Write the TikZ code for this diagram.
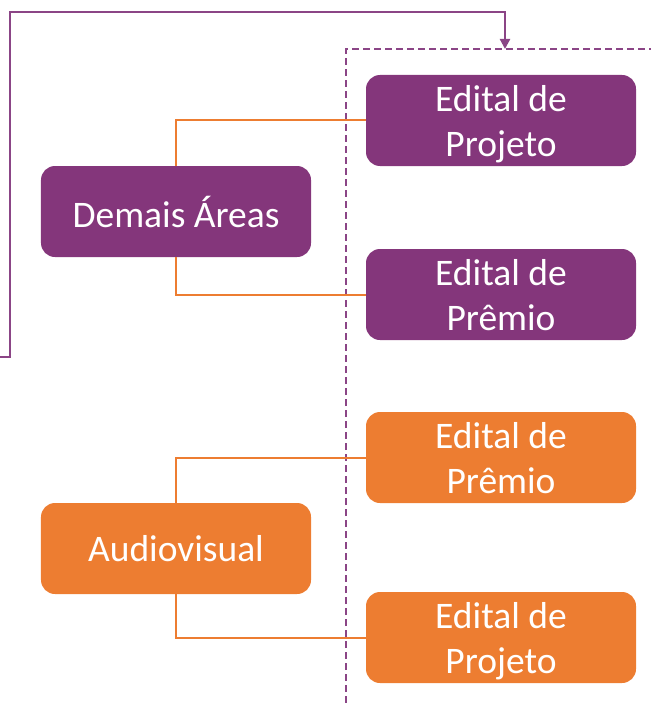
\documentclass[tikz,border=0pt]{standalone}
\usepackage{fontspec}
\setmainfont{Carlito}
\usetikzlibrary{arrows.meta}
\definecolor{purp}{HTML}{84367B}
\definecolor{orng}{HTML}{ED7D31}
\definecolor{purpline}{HTML}{8B4586}
\tikzset{
  box/.style={rounded corners=14bp, minimum width=270bp, minimum height=91bp, inner sep=0pt,
    text=white, align=center, text depth=0pt, font=\fontsize{37.5bp}{45bp}\selectfont},
  pbox/.style={box, fill=purp},
  obox/.style={box, fill=orng},
  conn/.style={draw=orng, line width=2bp},
  dashframe/.style={draw=purpline, line width=1.8bp, dash pattern=on 7bp off 4bp},
  feed/.style={draw=purpline, line width=2.2bp, -{Triangle[width=10bp,length=10bp]}}
}
\begin{document}
\begin{tikzpicture}[x=1bp,y=-1bp]
\useasboundingbox (0,0) rectangle (651,703);
% dashed frame
\coordinate (dbl) at (346,703);
\coordinate (dtl) at (346,49);
\coordinate (dtr) at (651,49);
\draw[dashframe] (dbl) -- (dtl) -- (dtr);
% nodes
\node[pbox] (p1) at (501,120.5) {Edital de\\Projeto};
\node[pbox] (p2) at (501,294.5) {Edital de\\Prêmio};
\node[obox] (o1) at (501,457.5) {Edital de\\Prêmio};
\node[obox] (o2) at (501,637.5) {Edital de\\Projeto};
\node[pbox] (dem) at (176,211.5) {Demais Áreas};
\node[obox] (aud) at (176,548.5) {Audiovisual};
% connectors
\draw[conn] (dem.north) |- (p1.west);
\draw[conn] (dem.south) |- (p2.west);
\draw[conn] (aud.north) |- (o1.west);
\draw[conn] (aud.south) |- (o2.west);
% feedback line
\coordinate (fs) at (0,357);
\coordinate (fc1) at (10,357);
\coordinate (fc2) at (10,12);
\coordinate (fc3) at (505,12);
\coordinate (fe) at (505,49);
\draw[feed] (fs) -- (fc1) -- (fc2) -- (fc3) -- (fe);
\end{tikzpicture}
\end{document}
